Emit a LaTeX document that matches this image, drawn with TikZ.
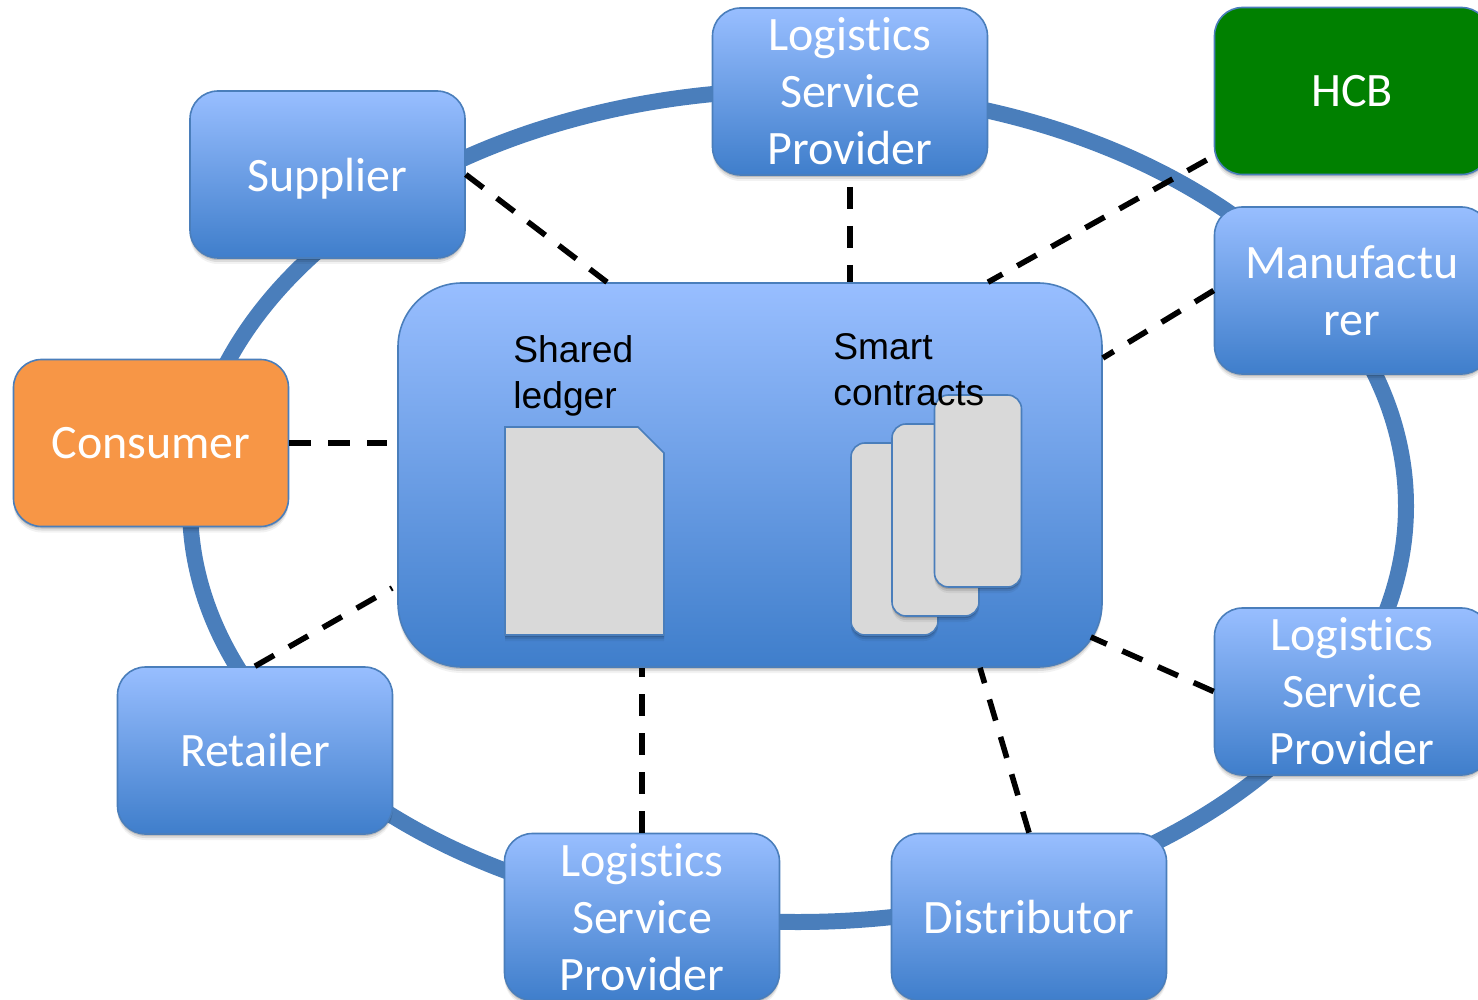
\documentclass[tikz,border=0pt]{standalone}
\usepackage{fontspec}
\setmainfont{Carlito}[RawFeature=-liga]
\newfontfamily\labelfont{Liberation Sans}
\usetikzlibrary{calc,shadows}
\definecolor{ringblue}{HTML}{4A7EBB}
\definecolor{boxtop}{HTML}{98BEFF}
\definecolor{boxbottom}{HTML}{3F7ECB}
\definecolor{cardgray}{HTML}{D9D9D9}
\definecolor{consumerorange}{HTML}{F79646}
\definecolor{hcbgreen}{HTML}{008000}

\begin{document}
\begin{tikzpicture}[x=0.5pt,y=-0.5pt]

\useasboundingbox (0,0) rectangle (1478,1000);
\clip (0,0) rectangle (1478,1000);

% Shadow
\tikzstyle{softshadow}=[drop shadow={shadow xshift=0pt,shadow yshift=-1pt,opacity=0.14,fill=black},
  drop shadow={shadow xshift=0pt,shadow yshift=-2pt,opacity=0.09,fill=black},
  drop shadow={shadow xshift=0pt,shadow yshift=-3pt,opacity=0.05,fill=black}]

% Member box
\tikzstyle{member}=[draw=ringblue,line width=0.8pt,rounded corners=14pt,softshadow,minimum width=137.5pt,minimum height=83.5pt,inner sep=0pt,align=center,text=white,font=\fontsize{24}{28.5}\selectfont]
\tikzstyle{bluebox}=[member,top color=boxtop,bottom color=boxbottom]

% Dashed link
\tikzstyle{link}=[line width=2.8pt,dash pattern=on 11pt off 8.5pt]

% Card
\tikzstyle{card}=[draw=ringblue,line width=0.8pt,fill=cardgray,rounded corners=7pt,softshadow,minimum width=43.5pt,minimum height=96pt,inner sep=0pt]

% Text in the ledger box
\tikzstyle{blacklabel}=[anchor=west,inner sep=0pt,align=left,font=\labelfont\fontsize{18.6}{23}\selectfont]


%%%%%%%%%%%%%%%%%%%%%%%%%%%%%%%%%%%%%%%%%%%%%%%%%%%%%%%%%%%%%%%%
%
%       Ring
%
\coordinate (ringc) at (798,506);
\draw [ringblue, line width=8pt] (ringc) ellipse [x radius=608, y radius=416];

%%%%%%%%%%%%%%%%%%%%%%%%%%%%%%%%%%%%%%%%%%%%%%%%%%%%%%%%%%%%%%%%
%
%       Members
%
\node (supplier)  [bluebox, text depth=0pt] at (327.5,174.5) {Supplier};
\node (lsptop)    [bluebox] at (850,91.5)    {Logistics\\Service\\Provider};
\node (hcb)       [member, fill=hcbgreen] at (1352,91) {HCB};
\node (maker)     [bluebox] at (1352,290.5)  {Manufactu\\rer};
\node (lspright)  [bluebox] at (1352,691.5)  {Logistics\\Service\\Provider};
\node (distrib)   [bluebox] at (1029,917)    {Distributor};
\node (lspbottom) [bluebox] at (642,917)     {Logistics\\Service\\Provider};
\node (retailer)  [bluebox] at (255,750.5)   {Retailer};
\node (consumer)  [member, fill=consumerorange] at (151,443) {Consumer};

%%%%%%%%%%%%%%%%%%%%%%%%%%%%%%%%%%%%%%%%%%%%%%%%%%%%%%%%%%%%%%%%
%
%       Shared platform
%
\node (platform) [bluebox, rounded corners=32pt, minimum width=352pt, minimum height=192pt] at (750,475) {};

% ledger page
\draw [draw=ringblue, line width=0.8pt, fill=cardgray, softshadow] (505,427) -- (638,427) -- (664,453) -- (664,635) -- (505,635) -- cycle;

% contract cards
\node (card1) [card] at (894.5,539) {};
\node (card2) [card] at (935.5,520) {};
\node (card3) [card] at (978,491)   {};

\node (ledgertext)   [blacklabel] at (513,376) {Shared\\ledger};
\node (contracttext) [blacklabel] at (833,370) {Smart\\contracts};

%%%%%%%%%%%%%%%%%%%%%%%%%%%%%%%%%%%%%%%%%%%%%%%%%%%%%%%%%%%%%%%%
%
%       Links to the platform
%
\draw [link] (supplier.east) -- ($(platform.north)+(-143,0)$);
\draw [link, shorten <=5.5pt] (lsptop.south) -- ($(platform.north)+(100,0)$);
\draw [link] ($(hcb.west)+(-7,69)$) -- ($(platform.north)+(238,0)$);
\draw [link] (maker.west) -- ($(platform.east)+(0,-117)$);
\draw [link] (lspright.west) -- ($(platform.east)+(-12,162)$);
\draw [link] (distrib.north) -- ($(platform.south)+(230,0)$);
\draw [link] (lspbottom.north) -- ($(platform.south)+(-108,0)$);
\draw [link] (retailer.north) -- ($(platform.west)+(-5,113)$);
\draw [link] (consumer.east) -- ($(platform.west)+(-10,-32)$);

\end{tikzpicture}
\end{document}
